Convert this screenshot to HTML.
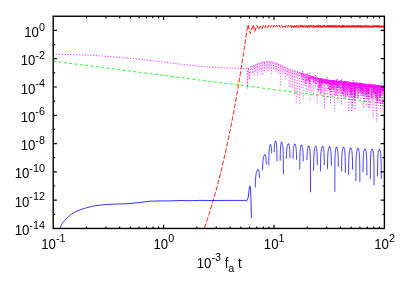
<!DOCTYPE html>
<html><head><meta charset="utf-8"><title>plot</title>
<style>html,body{margin:0;padding:0;background:#fff;overflow:hidden}body{width:409px;height:286px;position:relative;font-family:"Liberation Sans",sans-serif}</style></head>
<body>
<svg width="409" height="286" viewBox="0 0 409 286" style="position:absolute;left:0;top:0">
<rect x="0" y="0" width="409" height="286" fill="#fff"/>
<defs><clipPath id="cp"><rect x="53.20" y="16.25" width="331.20" height="212.20"/></clipPath></defs>
<g clip-path="url(#cp)" fill="none" stroke-linejoin="round">
<path d="M53.20 61.20 L384.40 103.76" stroke="#00ff00" stroke-width="0.85" stroke-dasharray="2.9 2.5" />
<path d="M202.29 233.91 L203.35 231.00 L204.39 228.08 L205.41 225.17 L206.40 222.26 L207.37 219.34 L208.33 216.43 L209.26 213.51 L210.18 210.60 L211.07 207.69 L211.95 204.77 L212.82 201.86 L213.67 198.95 L214.50 196.03 L215.32 193.12 L216.12 190.21 L216.91 187.29 L217.69 184.38 L218.46 181.46 L219.21 178.55 L219.95 175.64 L220.68 172.72 L221.39 169.81 L222.10 166.90 L222.79 163.98 L223.48 161.07 L224.15 158.15 L224.82 155.24 L225.47 152.33 L226.12 149.41 L226.76 146.50 L227.39 143.59 L228.01 140.67 L228.62 137.76 L229.22 134.84 L229.82 131.93 L230.40 129.02 L230.98 126.10 L231.56 123.19 L232.12 120.28 L232.68 117.36 L233.24 114.45 L233.78 111.53 L234.32 108.62 L234.85 105.71 L235.38 102.79 L235.90 99.88 L236.42 96.97 L236.92 94.05 L237.43 91.14 L237.93 88.23 L238.42 85.31 L238.90 82.40 L239.39 79.48 L239.86 76.57 L240.33 73.66 L240.80 70.74 L241.26 67.83 L241.72 64.92 L242.17 62.00 L242.63 59.09 L243.09 56.17 L243.54 53.26 L243.99 50.35 L244.44 47.43 L244.88 44.52 L245.31 41.61 L245.75 38.69 L246.18 35.78 L246.60 32.86 L247.03 29.95 L247.44 27.04 L248.10 25.10" stroke="#ff0000" stroke-width="0.9" stroke-dasharray="4.7 1.8" />
<path d="M248.10 25.10 L250.30 33.30 L253.20 24.80 L254.70 31.40 L256.90 25.50 L258.80 29.50 L260.50 26.00 L262.00 28.90 L263.40 25.05 L264.78 27.63 L266.15 25.09 L267.51 27.60 L268.85 25.12 L270.17 27.56 L271.48 25.15 L272.78 27.53 L274.06 25.18 L275.33 27.50 L276.58 25.21 L277.82 27.48 L279.05 25.24 L280.26 27.45 L281.46 25.26 L282.64 27.43 L283.82 25.28 L284.98 27.41 L286.12 25.30 L287.26 27.39 L288.38 25.32 L289.49 27.37 L290.59 25.34" stroke="#ff0000" stroke-width="1.0" stroke-dasharray="4 2.0" />
<path d="M290.59 25.34 L291.67 27.35 L292.75 25.36 L293.81 27.33 L294.86 25.38 L295.90 27.31 L296.92 25.40 L297.94 27.30 L298.95 25.41 L299.94 27.28 L300.92 25.42 L301.89 27.27 L302.85 25.44 L303.81 27.25 L304.75 25.45 L305.68 27.24 L306.59 25.46 L307.50 27.23 L308.40 25.48 L309.29 27.22 L310.17 25.49 L311.04 27.21 L311.90 25.50 L312.75 27.20 L313.60 25.51 L314.43 27.19 L315.25 25.52 L316.07 27.18 L316.87 25.53 L317.67 27.17 L318.46 25.53 L319.23 27.16 L320.00 25.54 L320.77 27.15 L321.52 25.55 L322.27 27.15 L323.00 25.56 L323.73 27.14 L324.45 25.56 L325.17 27.13 L325.87 25.57 L326.57 27.13 L327.26 25.58 L327.94 27.12 L328.61 25.58 L329.28 27.11 L329.94 25.59 L330.59 27.11 L331.24 25.59 L331.88 27.10 L332.51 25.60 L333.13 27.10 L333.75 25.61 L334.36 27.09 L334.97 25.61 L335.56 27.09 L336.15 25.62 L336.74 27.08 L337.32 25.62 L337.89 27.08 L338.45 25.62 L339.01 27.07 L339.57 25.63 L340.11 27.07 L340.65 25.63 L341.19 27.07 L341.72 25.64 L342.24 27.06 L342.76 25.64 L343.27 27.06 L343.77 25.64 L344.28 27.05 L344.78 25.65 L345.28 27.05 L345.78 25.65 L346.28 27.05 L346.78 25.65 L347.28 27.04 L347.78 25.66 L348.28 27.04 L348.78 25.66 L349.28 27.04 L349.78 25.66 L350.28 27.04 L350.78 25.67 L351.28 27.03 L351.78 25.67 L352.28 27.03 L352.78 25.67 L353.28 27.03 L353.78 25.68 L354.28 27.02 L354.78 25.68 L355.28 27.02 L355.78 25.68 L356.28 27.02 L356.78 25.68 L357.28 27.01 L357.78 25.69 L358.28 27.01 L358.78 25.69 L359.28 27.01 L359.78 25.69 L360.28 27.01 L360.78 25.69 L361.28 27.00 L361.78 25.70 L362.28 27.00 L362.78 25.70 L363.28 27.00 L363.78 25.70 L364.28 27.00 L364.78 25.70 L365.28 26.99 L365.78 25.71 L366.28 26.99 L366.78 25.71 L367.28 26.99 L367.78 25.71 L368.28 26.99 L368.78 25.71 L369.28 26.98 L369.78 25.72 L370.28 26.98 L370.78 25.72 L371.28 26.98 L371.78 25.72 L372.28 26.98 L372.78 25.72 L373.28 26.98 L373.78 25.72 L374.28 26.97 L374.78 25.73 L375.28 26.97 L375.78 25.73 L376.28 26.97 L376.78 25.73 L377.28 26.97 L377.78 25.73 L378.28 26.97 L378.78 25.73 L379.28 26.96 L379.78 25.74 L380.28 26.96 L380.78 25.74 L381.28 26.96 L381.78 25.74 L382.28 26.96 L382.78 25.74 L383.28 26.96 L383.78 25.74 L384.28 26.96 L384.78 25.75 L385.28 26.95 L385.78 25.75 L386.28 26.95 L386.78 25.75" stroke="#ff0000" stroke-width="1.1" stroke-dasharray="4 0.9" />
<path d="M59.60 228.60 L60.10 227.60 L62.30 223.60 L64.00 221.30 L66.00 219.20 L67.80 217.30 L69.70 215.50 L71.50 214.10 L73.30 212.90 L75.00 212.00 L77.00 211.10 L80.50 209.70 L84.30 208.50 L88.00 207.40 L91.70 206.40 L95.00 205.80 L99.00 205.30 L106.30 204.50 L115.00 204.10 L128.20 203.70 L138.00 202.70 L150.00 201.20 L160.00 200.90 L170.00 200.90 L180.00 200.50 L190.00 200.70 L200.00 200.40 L215.00 200.50 L230.00 200.40 L247.00 200.40 L248.30 197.00 L249.30 188.50 L249.90 186.10 L250.50 189.00 L251.00 200.00 L251.40 218.00" stroke="#0000ff" stroke-width="0.8" />
<path d="M255.20 187.40 L255.41 180.75 L255.63 177.68 L255.84 175.69 L256.06 174.25 L256.27 173.14 L256.49 172.27 L256.70 171.56 L256.91 171.00 L257.13 170.55 L257.34 170.19 L257.56 169.93 L257.77 169.75 L257.99 169.64 L258.20 169.60 L258.29 169.63 L258.39 169.71 L258.48 169.85 L258.57 170.04 L258.66 170.30 L258.76 170.63 L258.85 171.03 L258.94 171.52 L259.04 172.11 L259.13 172.83 L259.22 173.70 L259.31 174.78 L259.41 176.15 L259.50 178.00" stroke="#0000ff" stroke-width="0.74" />
<path d="M257.34 170.19 L257.56 169.93 L257.77 169.75 L257.99 169.64 L258.20 169.60 L258.29 169.63 L258.39 169.71 L258.48 169.85 L258.57 170.04" stroke="#0000ff" stroke-width="0.6" />
<path d="M262.50 170.50 L262.68 165.10 L262.86 162.31 L263.04 160.46 L263.21 159.09 L263.39 158.03 L263.57 157.19 L263.75 156.51 L263.93 155.96 L264.11 155.52 L264.29 155.18 L264.46 154.92 L264.64 154.74 L264.82 154.64 L265.00 154.60 L265.09 154.63 L265.19 154.72 L265.28 154.87 L265.37 155.08 L265.46 155.36 L265.56 155.71 L265.65 156.15 L265.74 156.69 L265.84 157.34 L265.93 158.14 L266.02 159.12 L266.11 160.36 L266.21 161.99 L266.30 164.30" stroke="#0000ff" stroke-width="0.74" />
<path d="M264.29 155.18 L264.46 154.92 L264.64 154.74 L264.82 154.64 L265.00 154.60 L265.09 154.63 L265.19 154.72 L265.28 154.87 L265.37 155.08" stroke="#0000ff" stroke-width="0.6" />
<path d="M268.80 165.30 L268.92 156.44 L269.04 153.00 L269.16 150.86 L269.29 149.33 L269.41 148.17 L269.53 147.26 L269.65 146.53 L269.77 145.94 L269.89 145.48 L270.01 145.11 L270.14 144.84 L270.26 144.65 L270.38 144.54 L270.50 144.50 L270.59 144.53 L270.67 144.61 L270.76 144.75 L270.84 144.95 L270.93 145.22 L271.01 145.56 L271.10 145.97 L271.19 146.48 L271.27 147.09 L271.36 147.83 L271.44 148.73 L271.53 149.86 L271.61 151.32 L271.70 153.30" stroke="#0000ff" stroke-width="0.74" />
<path d="M270.01 145.11 L270.14 144.84 L270.26 144.65 L270.38 144.54 L270.50 144.50 L270.59 144.53 L270.67 144.61 L270.76 144.75 L270.84 144.95" stroke="#0000ff" stroke-width="0.6" />
<path d="M274.10 152.10 L274.20 149.27 L274.30 147.38 L274.40 145.99 L274.50 144.90 L274.60 144.04 L274.70 143.33 L274.80 142.76 L274.90 142.29 L275.00 141.91 L275.10 141.61 L275.20 141.38 L275.30 141.22 L275.40 141.13 L275.50 141.10 L275.61 141.14 L275.71 141.25 L275.82 141.44 L275.93 141.71 L276.04 142.07 L276.14 142.53 L276.25 143.12 L276.36 143.84 L276.46 144.75 L276.57 145.90 L276.68 147.41 L276.79 149.53 L276.89 152.91 L277.00 161.30" stroke="#0000ff" stroke-width="0.74" />
<path d="M275.10 141.61 L275.20 141.38 L275.30 141.22 L275.40 141.13 L275.50 141.10 L275.61 141.14 L275.71 141.25 L275.82 141.44 L275.93 141.71" stroke="#0000ff" stroke-width="0.6" />
<path d="M280.20 160.70 L280.30 153.64 L280.40 150.48 L280.50 148.46 L280.60 146.99 L280.70 145.87 L280.80 144.99 L280.90 144.28 L281.00 143.71 L281.10 143.25 L281.20 142.90 L281.30 142.63 L281.40 142.45 L281.50 142.34 L281.60 142.30 L281.73 142.34 L281.86 142.45 L281.99 142.65 L282.11 142.94 L282.24 143.31 L282.37 143.80 L282.50 144.41 L282.63 145.18 L282.76 146.14 L282.89 147.38 L283.01 149.03 L283.14 151.40 L283.27 155.47 L283.40 174.00" stroke="#0000ff" stroke-width="0.74" />
<path d="M281.20 142.90 L281.30 142.63 L281.40 142.45 L281.50 142.34 L281.60 142.30 L281.73 142.34 L281.86 142.45 L281.99 142.65 L282.11 142.94" stroke="#0000ff" stroke-width="0.6" />
<path d="M286.30 158.80 L286.45 153.94 L286.60 151.31 L286.75 149.52 L286.90 148.19 L287.05 147.16 L287.20 146.34 L287.35 145.67 L287.50 145.14 L287.65 144.71 L287.80 144.37 L287.95 144.12 L288.10 143.94 L288.25 143.83 L288.40 143.80 L288.51 143.83 L288.63 143.94 L288.74 144.11 L288.86 144.36 L288.97 144.69 L289.09 145.12 L289.20 145.65 L289.31 146.30 L289.43 147.11 L289.54 148.12 L289.66 149.42 L289.77 151.16 L289.89 153.69 L290.00 158.20" stroke="#0000ff" stroke-width="0.74" />
<path d="M287.80 144.37 L287.95 144.12 L288.10 143.94 L288.25 143.83 L288.40 143.80 L288.51 143.83 L288.63 143.94 L288.74 144.11 L288.86 144.36" stroke="#0000ff" stroke-width="0.6" />
<path d="M293.00 158.70 L293.13 154.07 L293.26 151.51 L293.39 149.76 L293.51 148.45 L293.64 147.43 L293.77 146.61 L293.90 145.96 L294.03 145.42 L294.16 145.00 L294.29 144.66 L294.41 144.41 L294.54 144.24 L294.67 144.13 L294.80 144.10 L294.93 144.14 L295.06 144.24 L295.19 144.42 L295.31 144.68 L295.44 145.02 L295.57 145.45 L295.70 146.00 L295.83 146.68 L295.96 147.51 L296.09 148.57 L296.21 149.93 L296.34 151.77 L296.47 154.52 L296.60 159.80" stroke="#0000ff" stroke-width="0.74" />
<path d="M294.29 144.66 L294.41 144.41 L294.54 144.24 L294.67 144.13 L294.80 144.10 L294.93 144.14 L295.06 144.24 L295.19 144.42 L295.31 144.68" stroke="#0000ff" stroke-width="0.6" />
<path d="M299.80 169.70 L299.91 157.69 L300.03 153.93 L300.14 151.66 L300.26 150.07 L300.37 148.86 L300.49 147.92 L300.60 147.17 L300.71 146.57 L300.83 146.10 L300.94 145.73 L301.06 145.45 L301.17 145.25 L301.29 145.14 L301.40 145.10 L301.54 145.14 L301.67 145.24 L301.81 145.42 L301.94 145.68 L302.08 146.03 L302.21 146.47 L302.35 147.02 L302.49 147.70 L302.62 148.55 L302.76 149.62 L302.89 151.00 L303.03 152.88 L303.16 155.71 L303.30 161.30" stroke="#0000ff" stroke-width="0.74" />
<path d="M300.94 145.73 L301.06 145.45 L301.17 145.25 L301.29 145.14 L301.40 145.10 L301.54 145.14 L301.67 145.24 L301.81 145.42 L301.94 145.68" stroke="#0000ff" stroke-width="0.6" />
<path d="M306.90 160.20 L307.03 155.80 L307.16 153.30 L307.29 151.59 L307.41 150.30 L307.54 149.29 L307.67 148.49 L307.80 147.84 L307.93 147.31 L308.06 146.89 L308.19 146.56 L308.31 146.31 L308.44 146.14 L308.57 146.03 L308.70 146.00 L308.83 146.04 L308.96 146.16 L309.09 146.35 L309.21 146.64 L309.34 147.02 L309.47 147.51 L309.60 148.13 L309.73 148.90 L309.86 149.87 L309.99 151.13 L310.11 152.80 L310.24 155.22 L310.37 159.43 L310.50 192.30" stroke="#0000ff" stroke-width="0.74" />
<path d="M308.19 146.56 L308.31 146.31 L308.44 146.14 L308.57 146.03 L308.70 146.00 L308.83 146.04 L308.96 146.16 L309.09 146.35 L309.21 146.64" stroke="#0000ff" stroke-width="0.6" />
<path d="M313.60 170.70 L313.76 158.87 L313.91 155.11 L314.07 152.85 L314.23 151.26 L314.39 150.06 L314.54 149.12 L314.70 148.37 L314.86 147.77 L315.01 147.30 L315.17 146.92 L315.33 146.65 L315.49 146.45 L315.64 146.34 L315.80 146.30 L315.91 146.34 L316.01 146.45 L316.12 146.63 L316.23 146.90 L316.34 147.26 L316.44 147.71 L316.55 148.29 L316.66 149.00 L316.76 149.89 L316.87 151.01 L316.98 152.49 L317.09 154.53 L317.19 157.72 L317.30 165.00" stroke="#0000ff" stroke-width="0.74" />
<path d="M315.17 146.92 L315.33 146.65 L315.49 146.45 L315.64 146.34 L315.80 146.30 L315.91 146.34 L316.01 146.45 L316.12 146.63 L316.23 146.90" stroke="#0000ff" stroke-width="0.6" />
<path d="M320.50 171.40 L320.66 158.96 L320.81 155.16 L320.97 152.88 L321.13 151.28 L321.29 150.07 L321.44 149.13 L321.60 148.38 L321.76 147.78 L321.91 147.30 L322.07 146.93 L322.23 146.65 L322.39 146.45 L322.54 146.34 L322.70 146.30 L322.81 146.34 L322.93 146.45 L323.04 146.63 L323.16 146.90 L323.27 147.26 L323.39 147.71 L323.50 148.29 L323.61 149.00 L323.73 149.89 L323.84 151.01 L323.96 152.49 L324.07 154.53 L324.19 157.72 L324.30 165.00" stroke="#0000ff" stroke-width="0.74" />
<path d="M322.07 146.93 L322.23 146.65 L322.39 146.45 L322.54 146.34 L322.70 146.30 L322.81 146.34 L322.93 146.45 L323.04 146.63 L323.16 146.90" stroke="#0000ff" stroke-width="0.6" />
<path d="M327.50 168.90 L327.65 158.92 L327.80 155.34 L327.95 153.15 L328.10 151.59 L328.25 150.41 L328.40 149.49 L328.55 148.75 L328.70 148.16 L328.85 147.69 L329.00 147.32 L329.15 147.04 L329.30 146.85 L329.45 146.74 L329.60 146.70 L329.73 146.74 L329.86 146.85 L329.99 147.03 L330.11 147.30 L330.24 147.66 L330.37 148.12 L330.50 148.69 L330.63 149.40 L330.76 150.30 L330.89 151.43 L331.01 152.90 L331.14 154.95 L331.27 158.18 L331.40 165.60" stroke="#0000ff" stroke-width="0.74" />
<path d="M329.00 147.32 L329.15 147.04 L329.30 146.85 L329.45 146.74 L329.60 146.70 L329.73 146.74 L329.86 146.85 L329.99 147.03 L330.11 147.30" stroke="#0000ff" stroke-width="0.6" />
<path d="M334.80 191.80 L334.93 160.42 L335.06 156.22 L335.19 153.80 L335.31 152.12 L335.44 150.87 L335.57 149.90 L335.70 149.13 L335.83 148.51 L335.96 148.02 L336.09 147.64 L336.21 147.35 L336.34 147.16 L336.47 147.04 L336.60 147.00 L336.72 147.04 L336.84 147.15 L336.96 147.34 L337.09 147.61 L337.21 147.97 L337.33 148.43 L337.45 149.01 L337.57 149.74 L337.69 150.64 L337.81 151.80 L337.94 153.31 L338.06 155.42 L338.18 158.78 L338.30 167.10" stroke="#0000ff" stroke-width="0.74" />
<path d="M336.09 147.64 L336.21 147.35 L336.34 147.16 L336.47 147.04 L336.60 147.00 L336.72 147.04 L336.84 147.15 L336.96 147.34 L337.09 147.61" stroke="#0000ff" stroke-width="0.6" />
<path d="M341.60 171.40 L341.74 159.91 L341.89 156.19 L342.03 153.94 L342.17 152.35 L342.31 151.15 L342.46 150.21 L342.60 149.47 L342.74 148.87 L342.89 148.39 L343.03 148.02 L343.17 147.75 L343.31 147.55 L343.46 147.44 L343.60 147.40 L343.73 147.44 L343.86 147.55 L343.99 147.75 L344.11 148.03 L344.24 148.40 L344.37 148.88 L344.50 149.48 L344.63 150.23 L344.76 151.18 L344.89 152.38 L345.01 153.99 L345.14 156.27 L345.27 160.08 L345.40 172.70" stroke="#0000ff" stroke-width="0.74" />
<path d="M343.03 148.02 L343.17 147.75 L343.31 147.55 L343.46 147.44 L343.60 147.40 L343.73 147.44 L343.86 147.55 L343.99 147.75 L344.11 148.03" stroke="#0000ff" stroke-width="0.6" />
<path d="M348.60 174.70 L348.76 160.83 L348.91 156.94 L349.07 154.63 L349.23 153.01 L349.39 151.80 L349.54 150.85 L349.70 150.09 L349.86 149.49 L350.01 149.00 L350.17 148.63 L350.33 148.35 L350.49 148.15 L350.64 148.04 L350.80 148.00 L350.93 148.04 L351.06 148.15 L351.19 148.34 L351.31 148.62 L351.44 148.98 L351.57 149.45 L351.70 150.04 L351.83 150.78 L351.96 151.70 L352.09 152.87 L352.21 154.42 L352.34 156.59 L352.47 160.13 L352.60 169.70" stroke="#0000ff" stroke-width="0.74" />
<path d="M350.17 148.63 L350.33 148.35 L350.49 148.15 L350.64 148.04 L350.80 148.00 L350.93 148.04 L351.06 148.15 L351.19 148.34 L351.31 148.62" stroke="#0000ff" stroke-width="0.6" />
<path d="M355.90 181.10 L356.04 161.71 L356.19 157.62 L356.33 155.24 L356.47 153.58 L356.61 152.35 L356.76 151.38 L356.90 150.61 L357.04 150.00 L357.19 149.52 L357.33 149.14 L357.47 148.85 L357.61 148.66 L357.76 148.54 L357.90 148.50 L358.04 148.54 L358.19 148.66 L358.33 148.85 L358.47 149.14 L358.61 149.52 L358.76 150.00 L358.90 150.62 L359.04 151.38 L359.19 152.35 L359.33 153.59 L359.47 155.25 L359.61 157.64 L359.76 161.74 L359.90 182.10" stroke="#0000ff" stroke-width="0.74" />
<path d="M357.33 149.14 L357.47 148.85 L357.61 148.66 L357.76 148.54 L357.90 148.50 L358.04 148.54 L358.19 148.66 L358.33 148.85 L358.47 149.14" stroke="#0000ff" stroke-width="0.6" />
<path d="M363.00 172.20 L363.14 161.31 L363.27 157.63 L363.41 155.40 L363.54 153.83 L363.68 152.64 L363.81 151.70 L363.95 150.96 L364.09 150.37 L364.22 149.89 L364.36 149.52 L364.49 149.24 L364.63 149.05 L364.76 148.94 L364.90 148.90 L365.04 148.94 L365.19 149.05 L365.33 149.25 L365.47 149.53 L365.61 149.90 L365.76 150.38 L365.90 150.99 L366.04 151.74 L366.19 152.69 L366.33 153.91 L366.47 155.52 L366.61 157.83 L366.76 161.70 L366.90 175.30" stroke="#0000ff" stroke-width="0.74" />
<path d="M364.36 149.52 L364.49 149.24 L364.63 149.05 L364.76 148.94 L364.90 148.90 L365.04 148.94 L365.19 149.05 L365.33 149.25 L365.47 149.53" stroke="#0000ff" stroke-width="0.6" />
<path d="M370.30 179.10 L370.43 162.27 L370.56 158.26 L370.69 155.90 L370.81 154.26 L370.94 153.03 L371.07 152.07 L371.20 151.31 L371.33 150.70 L371.46 150.21 L371.59 149.83 L371.71 149.55 L371.84 149.35 L371.97 149.24 L372.10 149.20 L372.24 149.24 L372.39 149.36 L372.53 149.55 L372.67 149.84 L372.81 150.22 L372.96 150.71 L373.10 151.32 L373.24 152.09 L373.39 153.06 L373.53 154.30 L373.67 155.97 L373.81 158.37 L373.96 162.51 L374.10 185.40" stroke="#0000ff" stroke-width="0.74" />
<path d="M371.59 149.83 L371.71 149.55 L371.84 149.35 L371.97 149.24 L372.10 149.20 L372.24 149.24 L372.39 149.36 L372.53 149.55 L372.67 149.84" stroke="#0000ff" stroke-width="0.6" />
<path d="M377.50 176.50 L377.64 162.36 L377.77 158.45 L377.91 156.14 L378.04 154.52 L378.18 153.30 L378.31 152.35 L378.45 151.59 L378.59 150.99 L378.72 150.51 L378.86 150.13 L378.99 149.85 L379.13 149.65 L379.26 149.54 L379.40 149.50 L379.54 149.54 L379.67 149.65 L379.81 149.85 L379.94 150.13 L380.08 150.51 L380.21 151.00 L380.35 151.60 L380.49 152.37 L380.62 153.33 L380.76 154.56 L380.89 156.20 L381.03 158.55 L381.16 162.56 L381.30 179.10" stroke="#0000ff" stroke-width="0.74" />
<path d="M378.86 150.13 L378.99 149.85 L379.13 149.65 L379.26 149.54 L379.40 149.50 L379.54 149.54 L379.67 149.65 L379.81 149.85 L379.94 150.13" stroke="#0000ff" stroke-width="0.6" />
<path d="M53.20 54.30 L56.49 54.34 L59.78 54.38 L63.06 54.42 L66.35 54.46 L69.64 54.50 L72.93 54.60 L76.22 54.72 L79.51 54.83 L82.79 54.95 L86.08 55.06 L89.37 55.18 L92.66 55.39 L95.95 55.62 L99.23 55.85 L102.52 56.08 L105.81 56.31 L109.10 56.54 L112.39 56.79 L115.67 57.05 L118.96 57.32 L122.25 57.58 L125.54 57.84 L128.83 58.11 L132.12 58.43 L135.40 58.79 L138.69 59.16 L141.98 59.52 L145.27 59.88 L148.56 60.24 L151.84 60.64 L155.13 61.07 L158.42 61.49 L161.71 61.92 L165.00 62.35 L168.28 62.78 L171.57 63.18 L174.86 63.56 L178.15 63.94 L181.44 64.32 L184.73 64.69 L188.01 65.07 L191.30 65.43 L194.59 65.76 L197.88 66.09 L201.17 66.42 L204.45 66.73 L207.74 66.93 L211.03 67.14 L214.32 67.34 L217.61 67.55 L220.89 67.73 L224.18 67.84 L227.47 67.95 L230.76 68.06 L234.05 68.17 L237.34 68.28 L240.62 68.38 L243.91 68.49 L247.20 68.60 L247.40 88.30 L248.40 67.50 L249.60 79.50 L250.60 66.60" stroke="#ff00ff" stroke-width="0.8" stroke-dasharray="1.3 1.55" />
<path d="M250.60 66.85 L251.60 66.38 L252.60 65.91 L253.60 65.44 L254.60 65.00 L255.60 64.57 L256.60 64.14 L257.60 63.72 L258.60 63.36 L259.60 63.04 L260.60 62.72 L261.60 62.40 L262.60 62.08 L263.60 61.88 L264.60 61.75 L265.60 61.62 L266.60 61.50 L267.60 61.50 L268.60 61.58 L269.60 61.66 L270.60 61.74 L271.60 61.82 L272.60 62.03 L273.60 62.33 L274.60 62.63 L275.60 62.93 L276.60 63.29 L277.60 63.69 L278.60 64.09 L279.60 64.49 L280.60 64.95 L281.60 65.45 L282.60 65.95 L283.60 66.45 L284.60 66.95 L285.60 67.40 L286.60 67.81 L287.60 68.22 L288.60 68.63 L289.60 69.04 L290.60 69.45 L291.60 69.86 L292.60 70.24 L293.60 70.54 L294.60 70.83 L295.60 71.13 L296.60 71.43 L297.60 71.73 L298.60 72.02 L299.60 72.32" stroke="#ff00ff" stroke-width="0.8" stroke-dasharray="1.1 1.65" stroke-opacity="1.00"/>
<path d="M251.20 68.32 L252.20 67.85 L253.20 67.38 L254.20 66.92 L255.20 66.49 L256.20 66.06 L257.20 65.64 L258.20 65.24 L259.20 64.92 L260.20 64.60 L261.20 64.28 L262.20 63.96 L263.20 63.68 L264.20 63.55 L265.20 63.43 L266.20 63.30 L267.20 63.22 L268.20 63.30 L269.20 63.38 L270.20 63.46 L271.20 63.54 L272.20 63.66 L273.20 63.96 L274.20 64.26 L275.20 64.56 L276.20 64.88 L277.20 65.28 L278.20 65.68 L279.20 66.08 L280.20 66.50 L281.20 67.00 L282.20 67.50 L283.20 68.00 L284.20 68.50 L285.20 68.98 L286.20 69.39 L287.20 69.80 L288.20 70.22 L289.20 70.63 L290.20 71.04 L291.20 71.45 L292.20 71.86 L293.20 72.17 L294.20 72.46 L295.20 72.76 L296.20 73.06 L297.20 73.36 L298.20 73.65 L299.20 73.95 L300.20 74.25 L301.20 74.55 L302.20 74.85 L303.20 75.15 L304.20 75.46 L305.20 75.76" stroke="#ff00ff" stroke-width="0.8" stroke-dasharray="1.1 1.65" stroke-opacity="0.87"/>
<path d="M251.80 69.79 L252.80 69.31 L253.80 68.84 L254.80 68.41 L255.80 67.98 L256.80 67.56 L257.80 67.14 L258.80 66.79 L259.80 66.47 L260.80 66.15 L261.80 65.83 L262.80 65.51 L263.80 65.35 L264.80 65.23 L265.80 65.10 L266.80 64.98 L267.80 65.01 L268.80 65.09 L269.80 65.17 L270.80 65.25 L271.80 65.33 L272.80 65.59 L273.80 65.89 L274.80 66.19 L275.80 66.49 L276.80 66.87 L277.80 67.27 L278.80 67.67 L279.80 68.07 L280.80 68.55 L281.80 69.05 L282.80 69.55 L283.80 70.05 L284.80 70.55 L285.80 70.98 L286.80 71.39 L287.80 71.80 L288.80 72.21 L289.80 72.62 L290.80 73.03 L291.80 73.44 L292.80 73.80 L293.80 74.10 L294.80 74.39 L295.80 74.69 L296.80 74.99 L297.80 75.29 L298.80 75.58 L299.80 75.88 L300.80 76.18 L301.80 76.48 L302.80 76.78 L303.80 77.09 L304.80 77.39 L305.80 77.69 L306.80 77.99 L307.80 78.29 L308.80 78.59 L309.80 78.89 L310.80 79.20 L311.80 79.50" stroke="#ff00ff" stroke-width="0.8" stroke-dasharray="1.1 1.65" stroke-opacity="0.74"/>
<path d="M252.40 71.25 L253.40 70.78 L254.40 70.33 L255.40 69.91 L256.40 69.48 L257.40 69.06 L258.40 68.67 L259.40 68.35 L260.40 68.03 L261.40 67.71 L262.40 67.39 L263.40 67.15 L264.40 67.03 L265.40 66.90 L266.40 66.78 L267.40 66.73 L268.40 66.81 L269.40 66.89 L270.40 66.97 L271.40 67.05 L272.40 67.22 L273.40 67.52 L274.40 67.82 L275.40 68.12 L276.40 68.46 L277.40 68.86 L278.40 69.26 L279.40 69.66 L280.40 70.10 L281.40 70.60 L282.40 71.10 L283.40 71.60 L284.40 72.10 L285.40 72.56 L286.40 72.98 L287.40 73.39 L288.40 73.80 L289.40 74.21 L290.40 74.62 L291.40 75.03 L292.40 75.43 L293.40 75.73 L294.40 76.02 L295.40 76.32" stroke="#ff00ff" stroke-width="0.8" stroke-dasharray="1.1 1.65" stroke-opacity="0.61"/>
<path d="M253.00 72.72 L254.00 72.25 L255.00 71.83 L256.00 71.40 L257.00 70.97 L258.00 70.55 L259.00 70.23 L260.00 69.91 L261.00 69.59 L262.00 69.27 L263.00 68.95 L264.00 68.83 L265.00 68.70 L266.00 68.58 L267.00 68.45 L268.00 68.53 L269.00 68.61 L270.00 68.69 L271.00 68.77 L272.00 68.85 L273.00 69.15 L274.00 69.45 L275.00 69.75 L276.00 70.05 L277.00 70.45 L278.00 70.85 L279.00 71.25 L280.00 71.65 L281.00 72.15 L282.00 72.65 L283.00 73.15 L284.00 73.65 L285.00 74.15 L286.00 74.56 L287.00 74.97 L288.00 75.38 L289.00 75.79 L290.00 76.20 L291.00 76.62 L292.00 77.03 L293.00 77.36 L294.00 77.66 L295.00 77.95" stroke="#ff00ff" stroke-width="0.8" stroke-dasharray="1.1 1.65" stroke-opacity="0.48"/>
<path d="M252.30 66.10 L252.45 73.29 M254.05 65.28 L254.20 76.69 M255.80 64.53 L255.95 72.42 M257.55 63.79 L257.70 76.20 M259.30 63.18 L259.45 70.84 M261.05 62.62 L261.20 74.94 M262.80 62.06 L262.95 75.80 M264.55 61.81 L264.70 71.83 M266.30 61.59 L266.45 70.06 M268.05 61.58 L268.20 72.53 M269.80 61.72 L269.95 70.03 M271.55 61.86 L271.70 74.30 M273.30 62.29 L273.45 68.87 M275.05 62.81 L275.20 71.75 M276.80 63.42 L276.95 70.30 M278.55 64.12 L278.70 74.69 M280.30 64.85 L280.45 86.80 M282.05 65.73 L282.20 74.51 M283.80 66.60 L283.95 72.42 M285.55 67.43 L285.70 79.71 M287.30 68.15 L287.45 75.91 M289.05 68.86 L289.20 87.50 M290.80 69.58 L290.95 87.50 M292.55 70.27 L292.70 87.50 M294.30 70.79 L294.45 94.10 M296.05 71.31 L296.20 103.11 M297.80 71.84 L297.95 97.00 M299.55 72.36 L299.70 104.93 M301.30 72.88 L301.45 88.69 M303.05 73.41 L303.20 98.76 M304.80 73.94 L304.95 87.41 M306.55 74.46 L306.70 93.01 M308.30 74.99 L308.45 91.28 M310.05 75.52 L310.20 100.92 M311.80 76.05 L311.95 92.00 M313.55 76.57 L313.70 96.52 M315.30 77.04 L315.45 87.90 M317.05 77.47 L317.20 103.62 M318.80 77.89 L318.95 89.70 M320.55 78.32 L320.70 95.05 M322.30 78.70 L322.45 93.14 M324.05 78.99 L324.20 98.48 M325.80 79.27 L325.95 94.70 M327.55 79.56 L327.70 99.10 M329.30 79.83 L329.45 92.90 M331.05 80.00 L331.20 97.21 M332.80 80.16 L332.95 96.69 M334.55 80.33 L334.70 111.28" stroke="#ff00ff" stroke-width="0.75" stroke-dasharray="1.1 1.65"/>
<path d="M300.00 72.28 L300.62 74.58 L301.24 72.91 L301.86 77.12 L302.48 70.97 L303.10 81.71 L303.72 73.31 L304.34 75.67 L304.96 74.35 L305.58 83.95 L306.20 74.44 L306.82 80.36 L307.44 73.32 L308.06 82.22 L308.68 74.97 L309.30 82.48 L309.92 73.21 L310.54 79.44 L311.16 75.68 L311.78 77.58 L312.40 76.16 L313.02 81.56 L313.64 76.60 L314.26 79.17 L314.88 77.05 L315.50 80.41 L316.12 75.80 L316.74 80.33 L317.36 77.37 L317.98 81.86 L318.60 77.81 L319.22 82.68 L319.84 78.21 L320.46 79.54 L321.08 78.18 L321.70 82.51 L322.32 78.68 L322.94 84.60 L323.56 79.15 L324.18 81.26 L324.80 79.17 L325.42 82.59 L326.04 79.20 L326.66 80.61 L327.28 79.77 L327.90 84.45 L328.52 79.99 L329.14 83.12 L329.76 79.61 L330.38 82.13 L331.00 80.05 L331.62 87.83 L332.24 80.19 L332.86 83.66 L333.48 79.95 L334.10 89.50 L334.72 80.65 L335.34 85.69 L335.96 80.35 L336.58 82.15 L337.20 78.45 L337.82 87.03 L338.44 80.88 L339.06 93.47 L339.68 80.96 L340.30 90.93 L340.92 81.05 L341.54 82.42 L342.16 81.14 L342.78 87.60 L343.40 81.65 L344.02 90.72 L344.64 80.33 L345.26 97.54 L345.88 81.42 L346.50 85.60 L347.12 81.61 L347.74 85.61 L348.36 81.76 L348.98 91.13 L349.60 81.98 L350.22 95.62 L350.84 82.58 L351.46 93.13 L352.08 82.27 L352.70 85.70 L353.32 80.17 L353.94 99.19 L354.56 83.02 L355.18 93.63 L355.80 83.18 L356.42 85.96 L357.04 82.89 L357.66 86.38 L358.28 82.93 L358.90 85.85 L359.52 83.29 L360.14 89.01 L360.76 83.09 L361.38 95.07 L362.00 83.76 L362.62 93.33 L363.24 83.93 L363.86 94.71 L364.48 83.96 L365.10 86.22 L365.72 84.12 L366.34 95.15 L366.96 83.89 L367.58 89.52 L368.20 84.14 L368.82 95.15 L369.44 84.43 L370.06 86.25 L370.68 84.53 L371.30 96.65 L371.92 84.88 L372.54 87.55 L373.16 84.84 L373.78 93.90 L374.40 84.70 L375.02 95.95 L375.64 85.06 L376.26 87.61 L376.88 85.34 L377.50 100.87 L378.12 84.98 L378.74 86.67 L379.36 85.20 L379.98 91.79 L380.60 85.28 L381.22 87.24 L381.84 85.92 L382.46 91.39 L383.08 85.61 L383.70 87.47 L384.32 85.99 L384.94 103.49" stroke="#ff00ff" stroke-width="0.9" stroke-dasharray="1.2 1.5" stroke-dashoffset="0"/>
<path d="M309.30 75.66 L309.92 85.93 L310.54 75.95 L311.16 78.19 L311.78 76.16 L312.40 77.94 L313.02 76.42 L313.64 82.03 L314.26 77.15 L314.88 83.45 L315.50 75.34 L316.12 84.42 L316.74 77.72 L317.36 79.69 L317.98 77.41 L318.60 91.41 L319.22 78.40 L319.84 88.40 L320.46 78.56 L321.08 83.13 L321.70 78.85 L322.32 84.37 L322.94 78.62 L323.56 82.24 L324.18 79.08 L324.80 82.67 L325.42 79.49 L326.04 84.85 L326.66 79.44 L327.28 84.24 L327.90 79.66 L328.52 89.51 L329.14 79.63 L329.76 91.02 L330.38 79.85 L331.00 83.71 L331.62 80.11 L332.24 82.87 L332.86 80.02 L333.48 84.55 L334.10 80.04 L334.72 86.09 L335.34 80.24 L335.96 96.08 L336.58 80.42 L337.20 82.33 L337.82 80.74 L338.44 87.71 L339.06 81.13 L339.68 82.25 L340.30 80.91 L340.92 82.65 L341.54 78.98 L342.16 94.41 L342.78 81.51 L343.40 91.17 L344.02 81.36 L344.64 83.42 L345.26 81.26 L345.88 86.52 L346.50 81.46 L347.12 96.15 L347.74 82.06 L348.36 86.88 L348.98 82.28 L349.60 84.38 L350.22 82.29 L350.84 96.59 L351.46 82.59 L352.08 85.51 L352.70 82.48 L353.32 84.99 L353.94 82.70 L354.56 97.69 L355.18 82.52 L355.80 95.46 L356.42 82.64 L357.04 89.06 L357.66 83.37 L358.28 91.46 L358.90 83.04 L359.52 88.44 L360.14 83.51 L360.76 92.24 L361.38 83.15 L362.00 89.88 L362.62 83.79 L363.24 96.44 L363.86 83.58 L364.48 87.30 L365.10 83.76 L365.72 95.05 L366.34 84.35 L366.96 92.81 L367.58 84.22 L368.20 93.03 L368.82 84.07 L369.44 87.34 L370.06 84.44 L370.68 87.09 L371.30 84.90 L371.92 100.39 L372.54 84.41 L373.16 89.27 L373.78 84.49 L374.40 93.46 L375.02 84.75 L375.64 98.37 L376.26 84.99 L376.88 101.32 L377.50 84.98 L378.12 93.69 L378.74 85.50 L379.36 97.77 L379.98 85.15 L380.60 91.46 L381.22 83.50 L381.84 90.40 L382.46 85.69 L383.08 90.90 L383.70 85.66 L384.32 91.81 L384.94 86.16 L385.56 88.64" stroke="#ff00ff" stroke-width="0.9" stroke-dasharray="1.2 1.5" stroke-dashoffset="1.3"/>
<path d="M319.10 77.83 L319.76 86.76 L320.42 78.43 L321.08 94.11 L321.74 78.49 L322.40 82.06 L323.06 79.11 L323.72 80.79 L324.38 79.18 L325.04 83.87 L325.70 79.43 L326.36 83.41 L327.02 77.16 L327.68 84.29 L328.34 80.01 L329.00 82.95 L329.66 80.12 L330.32 85.52 L330.98 79.76 L331.64 91.55 L332.30 80.12 L332.96 88.92 L333.62 80.21 L334.28 84.43 L334.94 80.70 L335.60 85.91 L336.26 80.89 L336.92 91.44 L337.58 81.02 L338.24 85.49 L338.90 80.65 L339.56 83.50 L340.22 80.69 L340.88 82.67 L341.54 81.36 L342.20 88.64 L342.86 81.49 L343.52 96.72 L344.18 81.14 L344.84 92.47 L345.50 81.95 L346.16 84.39 L346.82 81.47 L347.48 94.68 L348.14 81.86 L348.80 87.91 L349.46 82.34 L350.12 87.80 L350.78 82.16 L351.44 86.69 L352.10 82.47 L352.76 88.33 L353.42 82.57 L354.08 84.98 L354.74 82.58 L355.40 86.69 L356.06 82.54 L356.72 84.21 L357.38 83.12 L358.04 98.53 L358.70 83.17 L359.36 93.16 L360.02 82.12 L360.68 89.39 L361.34 83.32 L362.00 86.31 L362.66 83.54 L363.32 92.93 L363.98 83.64 L364.64 85.13 L365.30 83.97 L365.96 90.97 L366.62 84.27 L367.28 92.39 L367.94 84.34 L368.60 91.92 L369.26 84.58 L369.92 86.41 L370.58 84.37 L371.24 87.96 L371.90 84.43 L372.56 86.80 L373.22 84.98 L373.88 92.16 L374.54 85.12 L375.20 87.85 L375.86 84.78 L376.52 87.61 L377.18 85.06 L377.84 93.34 L378.50 85.59 L379.16 102.68 L379.82 85.70 L380.48 96.85 L381.14 85.86 L381.80 90.96 L382.46 85.81 L383.12 93.46 L383.78 85.64 L384.44 88.48 L385.10 86.18 L385.76 90.64" stroke="#ff00ff" stroke-width="0.9" stroke-dasharray="1.2 1.5" stroke-dashoffset="0.6"/>
<path d="M329.10 79.67 L329.80 86.50 L330.50 79.69 L331.20 85.21 L331.90 80.31 L332.60 82.73 L333.30 80.03 L334.00 91.54 L334.70 80.63 L335.40 82.58 L336.10 80.40 L336.80 86.03 L337.50 80.95 L338.20 85.28 L338.90 80.85 L339.60 82.53 L340.30 81.31 L341.00 83.74 L341.70 81.46 L342.40 86.64 L343.10 81.34 L343.80 84.72 L344.50 81.26 L345.20 82.94 L345.90 81.34 L346.60 90.60 L347.30 81.81 L348.00 84.04 L348.70 81.93 L349.40 84.61 L350.10 82.06 L350.80 91.25 L351.50 82.61 L352.20 95.44 L352.90 82.68 L353.60 90.22 L354.30 82.44 L355.00 98.58 L355.70 83.11 L356.40 88.87 L357.10 82.66 L357.80 88.11 L358.50 83.11 L359.20 88.49 L359.90 83.19 L360.60 89.88 L361.30 83.41 L362.00 89.27 L362.70 83.32 L363.40 86.68 L364.10 83.64 L364.80 87.13 L365.50 83.73 L366.20 96.68 L366.90 84.21 L367.60 98.76 L368.30 84.06 L369.00 99.14 L369.70 84.58 L370.40 88.00 L371.10 84.36 L371.80 98.79 L372.50 84.51 L373.20 88.41 L373.90 84.51 L374.60 91.81 L375.30 84.79 L376.00 97.01 L376.70 85.42 L377.40 88.35 L378.10 85.54 L378.80 90.20 L379.50 85.40 L380.20 96.36 L380.90 85.82 L381.60 95.20 L382.30 85.89 L383.00 89.54 L383.70 85.93 L384.40 97.08 L385.10 86.28 L385.80 91.99" stroke="#ff00ff" stroke-width="0.9" stroke-dasharray="1.2 1.5" stroke-dashoffset="2.0"/>
<path d="M337.43 81.33 L337.63 99.88 M340.41 81.67 L340.61 95.78 M343.48 82.03 L343.68 95.59 M345.63 82.28 L345.83 99.44 M349.78 82.77 L349.98 99.70 M351.52 82.98 L351.72 111.15 M354.47 83.34 L354.67 102.52 M357.72 83.73 L357.92 99.84 M360.70 84.07 L360.90 99.82 M364.30 84.46 L364.50 102.50 M366.24 84.67 L366.44 105.40 M369.77 85.05 L369.97 109.13 M372.94 85.39 L373.14 98.39 M375.77 85.68 L375.97 110.56 M377.50 85.85 L377.70 103.52 M380.42 86.14 L380.62 110.93 M382.17 86.32 L382.37 105.92 M324.20 79.71 L324.40 108.20 M330.30 80.62 L330.50 103.30 M341.50 81.80 L341.70 104.50 M348.70 82.64 L348.90 112.40 M352.30 83.08 L352.50 108.20 M354.80 83.38 L355.00 109.40 M363.30 84.35 L363.50 108.20 M368.20 84.88 L368.40 109.40 M373.10 85.40 L373.30 118.00 M376.80 85.78 L377.00 121.70 M382.00 86.30 L382.20 106.50" stroke="#ff00ff" stroke-width="0.9" stroke-dasharray="1.2 1.5"/>
</g>
<g stroke="#000" stroke-width="1.4" fill="none" stroke-linecap="butt">
<rect x="53.20" y="16.25" width="331.20" height="212.20"/>
</g>
<g stroke="#000" stroke-width="1.2" fill="none">
<path d="M86.43 228.45 v-2.00 M86.43 16.25 v2.00"/>
<path d="M105.87 228.45 v-2.00 M105.87 16.25 v2.00"/>
<path d="M119.67 228.45 v-2.00 M119.67 16.25 v2.00"/>
<path d="M130.37 228.45 v-2.00 M130.37 16.25 v2.00"/>
<path d="M139.11 228.45 v-2.00 M139.11 16.25 v2.00"/>
<path d="M146.50 228.45 v-2.00 M146.50 16.25 v2.00"/>
<path d="M152.90 228.45 v-2.00 M152.90 16.25 v2.00"/>
<path d="M158.55 228.45 v-2.00 M158.55 16.25 v2.00"/>
<path d="M163.60 228.45 v-3.70 M163.60 16.25 v3.70"/>
<path d="M196.83 228.45 v-2.00 M196.83 16.25 v2.00"/>
<path d="M216.27 228.45 v-2.00 M216.27 16.25 v2.00"/>
<path d="M230.07 228.45 v-2.00 M230.07 16.25 v2.00"/>
<path d="M240.77 228.45 v-2.00 M240.77 16.25 v2.00"/>
<path d="M249.51 228.45 v-2.00 M249.51 16.25 v2.00"/>
<path d="M256.90 228.45 v-2.00 M256.90 16.25 v2.00"/>
<path d="M263.30 228.45 v-2.00 M263.30 16.25 v2.00"/>
<path d="M268.95 228.45 v-2.00 M268.95 16.25 v2.00"/>
<path d="M274.00 228.45 v-3.70 M274.00 16.25 v3.70"/>
<path d="M307.23 228.45 v-2.00 M307.23 16.25 v2.00"/>
<path d="M326.67 228.45 v-2.00 M326.67 16.25 v2.00"/>
<path d="M340.47 228.45 v-2.00 M340.47 16.25 v2.00"/>
<path d="M351.17 228.45 v-2.00 M351.17 16.25 v2.00"/>
<path d="M359.91 228.45 v-2.00 M359.91 16.25 v2.00"/>
<path d="M367.30 228.45 v-2.00 M367.30 16.25 v2.00"/>
<path d="M373.70 228.45 v-2.00 M373.70 16.25 v2.00"/>
<path d="M379.35 228.45 v-2.00 M379.35 16.25 v2.00"/>
<path d="M53.20 214.30 h2.00 M384.40 214.30 h-2.00"/>
<path d="M53.20 200.16 h3.70 M384.40 200.16 h-3.70"/>
<path d="M53.20 186.01 h2.00 M384.40 186.01 h-2.00"/>
<path d="M53.20 171.86 h3.70 M384.40 171.86 h-3.70"/>
<path d="M53.20 157.72 h2.00 M384.40 157.72 h-2.00"/>
<path d="M53.20 143.57 h3.70 M384.40 143.57 h-3.70"/>
<path d="M53.20 129.42 h2.00 M384.40 129.42 h-2.00"/>
<path d="M53.20 115.28 h3.70 M384.40 115.28 h-3.70"/>
<path d="M53.20 101.13 h2.00 M384.40 101.13 h-2.00"/>
<path d="M53.20 86.98 h3.70 M384.40 86.98 h-3.70"/>
<path d="M53.20 72.84 h2.00 M384.40 72.84 h-2.00"/>
<path d="M53.20 58.69 h3.70 M384.40 58.69 h-3.70"/>
<path d="M53.20 44.54 h2.00 M384.40 44.54 h-2.00"/>
<path d="M53.20 30.40 h3.70 M384.40 30.40 h-3.70"/>
</g>
<g font-family="'Liberation Sans', sans-serif" fill="#000" style="will-change:transform">
<text transform="translate(44.95 235.00) scale(1 1.05)" text-anchor="end" font-size="13.2">10<tspan dy="-6.10" font-size="10.8">-14</tspan></text>
<text transform="translate(44.95 206.71) scale(1 1.05)" text-anchor="end" font-size="13.2">10<tspan dy="-6.10" font-size="10.8">-12</tspan></text>
<text transform="translate(44.95 178.41) scale(1 1.05)" text-anchor="end" font-size="13.2">10<tspan dy="-6.10" font-size="10.8">-10</tspan></text>
<text transform="translate(44.95 150.12) scale(1 1.05)" text-anchor="end" font-size="13.2">10<tspan dy="-6.10" font-size="10.8">-8</tspan></text>
<text transform="translate(44.95 121.83) scale(1 1.05)" text-anchor="end" font-size="13.2">10<tspan dy="-6.10" font-size="10.8">-6</tspan></text>
<text transform="translate(44.95 93.53) scale(1 1.05)" text-anchor="end" font-size="13.2">10<tspan dy="-6.10" font-size="10.8">-4</tspan></text>
<text transform="translate(44.95 65.24) scale(1 1.05)" text-anchor="end" font-size="13.2">10<tspan dy="-6.10" font-size="10.8">-2</tspan></text>
<text transform="translate(44.95 36.95) scale(1 1.05)" text-anchor="end" font-size="13.2">10<tspan dy="-6.10" font-size="10.8">0</tspan></text>
<text transform="translate(53.40 248.50) scale(1 1.05)" text-anchor="middle" font-size="13.2">10<tspan dy="-6.10" font-size="10.8">-1</tspan></text>
<text transform="translate(163.80 248.50) scale(1 1.05)" text-anchor="middle" font-size="13.2">10<tspan dy="-6.10" font-size="10.8">0</tspan></text>
<text transform="translate(274.20 248.50) scale(1 1.05)" text-anchor="middle" font-size="13.2">10<tspan dy="-6.10" font-size="10.8">1</tspan></text>
<text transform="translate(384.60 248.50) scale(1 1.05)" text-anchor="middle" font-size="13.2">10<tspan dy="-6.10" font-size="10.8">2</tspan></text>
<text transform="translate(196.7 268.1) scale(1 1.05)" font-size="13.2">10<tspan dy="-6.76" font-size="10.8">-3</tspan><tspan dy="6.76" font-size="13.2"> f</tspan><tspan dy="3.8" font-size="10.8">a</tspan><tspan dy="-3.8" font-size="13.2"> t</tspan></text>
</g>
</svg>
</body></html>
